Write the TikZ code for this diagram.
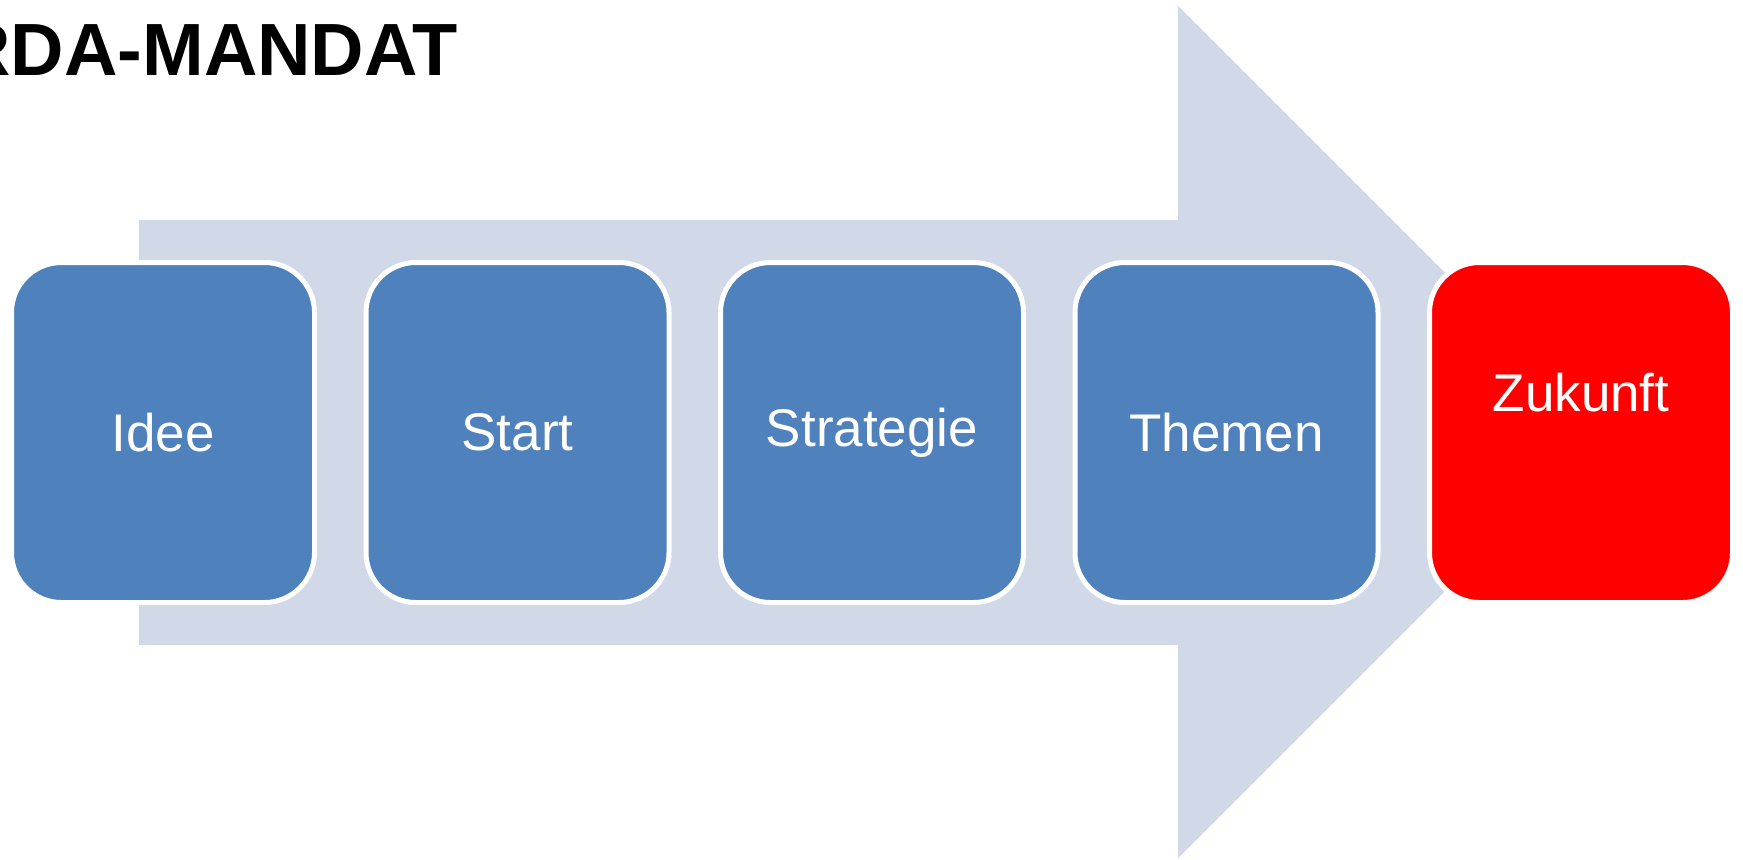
\documentclass[tikz,border=0pt]{standalone}
\usepackage{fontspec}
\setmainfont{Liberation Sans}
\usetikzlibrary{calc}
\definecolor{stageblue}{HTML}{4F81BD}
\definecolor{arrowgrey}{HTML}{D1D9E8}
\definecolor{futurered}{HTML}{FF0000}
\begin{document}
\begin{tikzpicture}[x=0.5pt,y=-0.5pt,
  stage/.style={draw=white, line width=2.5pt, fill=stageblue, rounded corners=25pt,
    minimum width=151.5pt, minimum height=170pt, inner sep=0pt, text=white,
    font=\fontsize{26.5pt}{30pt}\selectfont},
  lbl/.style={text=white, inner sep=0pt, font=\fontsize{26.5pt}{30pt}\selectfont}]
\useasboundingbox (0,0) rectangle (1743,859);
\fill[arrowgrey] (139,220) -- (1178,220) -- (1178,6) -- (1604,432) -- (1178,858) -- (1178,645) -- (139,645) -- cycle;
\node[anchor=base east, inner sep=0pt, font=\fontsize{37pt}{42pt}\selectfont\bfseries] (title) at (458,75) {RDA-MANDAT};
\node[stage] (idee) at (163,432.5) {Idee};
\node[stage] (start) at (517.5,432.5) {Start};
\node[stage] (strategie) at (872,432.5) {Strategie};
\node[stage] (themen) at (1226.5,432.5) {Themen};
\node[stage, fill=futurered] (zukunft) at (1581,432.5) {};
\node[lbl] (zukunfttext) at ($(zukunft.center)+(0,-40)$) {Zukunft};
\end{tikzpicture}
\end{document}
